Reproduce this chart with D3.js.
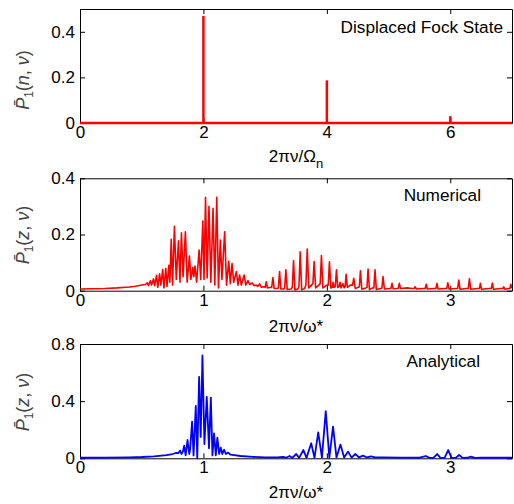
<!DOCTYPE html>
<html>
<head>
<meta charset="utf-8">
<script src="https://cdn.jsdelivr.net/npm/d3@7"></script>
<style>
  body { margin: 0; background: #fff; }
  text { font-family: "Liberation Sans", Arial, sans-serif; }
</style>
</head>
<body>
<div id="chart-area"></div>
<script>

// ---- Data ----

// Displaced Fock state: stick spectrum
var fockX = [2, 4, 6];
var fockY = [0.47, 0.187, 0.03];

// Numerical spectrum, peaks and valleys as [2*pi*nu/omega*, P]
var numericalPoints = [
	[0,0.006],[0.1,0.007],[0.2,0.008],[0.3,0.01],[0.4,0.013],[0.45,0.016],[0.5,0.02],[0.53,0.022],
	[0.545,0.028],[0.555,0.018],[0.57,0.035],[0.58,0.02],[0.595,0.042],[0.605,0.018],[0.62,0.055],[0.63,0.012],
	[0.645,0.06],[0.655,0.02],[0.67,0.075],[0.68,0.01],[0.695,0.08],[0.705,0.015],[0.72,0.09],[0.728,0.03],
	[0.739,0.183],[0.75,0.02],[0.765,0.229],[0.78,0.04],[0.798,0.178],[0.81,0.03],[0.822,0.206],[0.835,0.05],
	[0.854,0.21],[0.868,0.03],[0.887,0.123],[0.898,0.04],[0.914,0.082],[0.922,0.05],[0.932,0.088],[0.945,0.03],
	[0.965,0.145],[0.978,0.04],[0.995,0.248],[1.005,0.04],[1.017,0.332],[1.03,0.045],[1.045,0.3],[1.06,0.03],
	[1.078,0.293],[1.092,0.02],[1.108,0.332],[1.122,0.01],[1.137,0.18],[1.15,0.04],[1.172,0.21],[1.187,0.02],
	[1.205,0.105],[1.218,0.025],[1.232,0.097],[1.245,0.03],[1.267,0.068],[1.28,0.02],[1.293,0.056],[1.307,0.02],
	[1.33,0.056],[1.343,0.02],[1.361,0.036],[1.375,0.022],[1.395,0.028],[1.41,0.018],[1.428,0.02],[1.44,0.015],
	[1.455,0.024],[1.47,0.012],[1.49,0.014],[1.5,0.012],[1.509,0.032],[1.518,0.01],[1.545,0.012],[1.553,0.012],
	[1.563,0.047],[1.573,0.008],[1.6,0.008],[1.607,0.01],[1.617,0.068],[1.627,0.006],[1.65,0.006],[1.658,0.01],
	[1.668,0.074],[1.679,0.004],[1.71,0.006],[1.72,0.012],[1.73,0.107],[1.741,0.003],[1.765,0.006],[1.774,0.015],
	[1.784,0.138],[1.796,0.003],[1.82,0.008],[1.83,0.02],[1.841,0.148],[1.853,0.01],[1.875,0.02],[1.887,0.025],
	[1.897,0.104],[1.909,0.01],[1.935,0.02],[1.946,0.025],[1.956,0.125],[1.968,0.01],[2.0,0.02],[2.011,0.02],
	[2.021,0.103],[2.032,0.01],[2.045,0.012],[2.05,0.03],[2.058,0.012],[2.068,0.015],[2.078,0.074],[2.088,0.012],
	[2.1,0.015],[2.107,0.03],[2.115,0.01],[2.13,0.025],[2.14,0.01],[2.148,0.015],[2.156,0.058],[2.166,0.012],
	[2.19,0.02],[2.208,0.02],[2.218,0.044],[2.23,0.008],[2.255,0.012],[2.263,0.014],[2.272,0.071],[2.283,0.005],
	[2.315,0.01],[2.325,0.012],[2.334,0.077],[2.345,0.004],[2.372,0.01],[2.381,0.01],[2.39,0.074],[2.401,0.004],
	[2.435,0.008],[2.446,0.01],[2.455,0.05],[2.466,0.006],[2.51,0.008],[2.52,0.009],[2.528,0.026],[2.537,0.007],
	[2.57,0.008],[2.579,0.009],[2.587,0.026],[2.597,0.008],[2.65,0.01],[2.69,0.008],[2.708,0.008],[2.716,0.014],
	[2.726,0.006],[2.78,0.008],[2.797,0.008],[2.805,0.023],[2.814,0.006],[2.87,0.008],[2.884,0.008],[2.892,0.026],
	[2.901,0.006],[2.96,0.008],[2.972,0.008],[2.98,0.028],[2.99,0.006],[3.045,0.008],[3.06,0.008],[3.069,0.038],
	[3.079,0.005],[3.13,0.008],[3.146,0.008],[3.155,0.042],[3.165,0.005],[3.22,0.008],[3.236,0.008],[3.244,0.026],
	[3.253,0.005],[3.31,0.008],[3.332,0.008],[3.341,0.027],[3.35,0.005],[3.41,0.008],[3.426,0.008],[3.433,0.014],
	[3.442,0.005],[3.475,0.008],[3.484,0.008],[3.49,0.023],[3.5,0.01]
];

// Analytical spectrum
var analyticalPoints = [
	[0,0.004],[0.2,0.005],[0.4,0.007],[0.5,0.009],[0.6,0.013],[0.7,0.022],[0.75,0.03],[0.78,0.038],
	[0.795,0.035],[0.811,0.054],[0.822,0.03],[0.833,0.045],[0.844,0.089],[0.856,0.02],[0.871,0.128],[0.885,0.03],
	[0.892,0.06],[0.908,0.257],[0.92,0.02],[0.938,0.366],[0.95,0.0],[0.965,0.57],[0.978,0.15],[0.992,0.72],
	[1.008,0.1],[1.027,0.43],[1.045,0.07],[1.06,0.425],[1.073,0.02],[1.086,0.175],[1.1,0.02],[1.113,0.145],
	[1.127,0.03],[1.14,0.075],[1.153,0.03],[1.167,0.06],[1.182,0.03],[1.2,0.04],[1.22,0.025],[1.25,0.022],
	[1.3,0.016],[1.4,0.01],[1.5,0.007],[1.6,0.006],[1.644,0.01],[1.67,0.004],[1.698,0.016],[1.72,0.003],
	[1.752,0.03],[1.775,0.003],[1.81,0.058],[1.835,0.003],[1.873,0.105],[1.9,0.003],[1.93,0.182],[1.96,0.005],
	[1.991,0.33],[2.02,0.005],[2.05,0.222],[2.078,0.005],[2.11,0.096],[2.14,0.005],[2.172,0.047],[2.2,0.005],
	[2.231,0.03],[2.26,0.006],[2.293,0.019],[2.325,0.006],[2.358,0.014],[2.39,0.006],[2.45,0.006],[2.6,0.005],
	[2.7,0.005],[2.75,0.004],[2.802,0.016],[2.83,0.003],[2.865,0.004],[2.894,0.03],[2.92,0.003],[2.955,0.004],
	[2.983,0.058],[3.01,0.003],[3.045,0.004],[3.072,0.023],[3.1,0.003],[3.14,0.004],[3.166,0.012],[3.2,0.003],
	[3.25,0.004],[3.3,0.004],[3.4,0.004],[3.5,0.004]
];

// Ticks
var fockTicksX = [0, 2, 4, 6];
var fockTicksY = [0, 0.2, 0.4];
var freqTicksX = [0, 1, 2, 3];
var numericalTicksY = [0, 0.2, 0.4];
var analyticalTicksY = [0, 0.4, 0.8];


// ---- Drawing ----

var width = 514,
		height = 504;

var left = 80,
		right = 512;

var svg = d3.select("#chart-area").append("svg")
		.attr("width", width)
		.attr("height", height);

var fmt = function(d){ return d === 0 ? "0" : d3.format("")(d); };

// One MATLAB-like box axes
function drawPanel(cfg) {
	var g = svg.append("g");

	var x = d3.scaleLinear().domain(cfg.xDomain).range([left, right]);
	var y = d3.scaleLinear().domain(cfg.yDomain).range([cfg.bottom, cfg.top]);

	// clip for data
	svg.append("clipPath").attr("id", cfg.id)
		.append("rect")
		.attr("x", left).attr("y", cfg.top - 2)
		.attr("width", right - left).attr("height", cfg.bottom - cfg.top + 4);

	// inner ticks on all four sides
	g.append("g").attr("transform", "translate(0," + cfg.bottom + ")")
		.call(d3.axisBottom(x).tickValues(cfg.xTicks).tickFormat(fmt).tickSizeInner(-5).tickSizeOuter(0).tickPadding(3));
	g.append("g").attr("transform", "translate(" + left + ",0)")
		.call(d3.axisLeft(y).tickValues(cfg.yTicks).tickFormat(fmt).tickSizeInner(-5).tickSizeOuter(0).tickPadding(5));
	g.append("g").attr("transform", "translate(0," + cfg.top + ")")
		.call(d3.axisTop(x).tickValues(cfg.xTicks).tickFormat("").tickSizeInner(-5).tickSizeOuter(0));
	g.append("g").attr("transform", "translate(" + right + ",0)")
		.call(d3.axisRight(y).tickValues(cfg.yTicks).tickFormat("").tickSizeInner(-5).tickSizeOuter(0));

	g.selectAll(".tick text").attr("font-size", 17).attr("fill", "#000")
		.attr("font-family", "'Liberation Sans', Arial, sans-serif");
	g.selectAll(".domain, .tick line").attr("stroke", "#000");

	// title inside the box
	g.append("text")
		.attr("x", cfg.titleX).attr("y", cfg.titleY)
		.attr("text-anchor", "end")
		.attr("font-size", 17.2)
		.text(cfg.title);

	// x label
	var xl = g.append("text")
		.attr("x", (left + right) / 2).attr("y", cfg.xLabelY)
		.attr("text-anchor", "middle")
		.attr("font-size", 17);
	xl.append("tspan").text(cfg.xLabel);
	if (cfg.xSub) xl.append("tspan").attr("font-size", 13).attr("dy", 6).text(cfg.xSub);

	// y label: P-bar_1(var, nu)
	var yl = g.append("text")
		.attr("transform", "translate(29," + cfg.yLabelY + ") rotate(-90)")
		.attr("text-anchor", "middle")
		.attr("fill", "#444")
		.attr("font-family", "'Liberation Serif', 'DejaVu Serif', serif")
		.attr("font-size", 18);
	yl.append("tspan").attr("font-style", "italic").text("P\u0304");
	yl.append("tspan").attr("font-size", 12).attr("dy", 4).text("1");
	yl.append("tspan").attr("dy", -4).text("(");
	yl.append("tspan").attr("font-style", "italic").text(cfg.yVar);
	yl.append("tspan").text(", ");
	yl.append("tspan").attr("font-style", "italic").text("\u03bd");
	yl.append("tspan").text(")");

	return { g: g, x: x, y: y };
}

// Panel 1: displaced Fock state
var p1 = drawPanel({
	id: "clip1", top: 9, bottom: 123,
	xDomain: [0, 7], yDomain: [0, 0.5],
	xTicks: fockTicksX, yTicks: fockTicksY,
	title: "Displaced Fock State", titleX: 503, titleY: 33,
	xLabel: "2\u03c0\u03bd/\u03a9", xSub: "n", xLabelY: 162,
	yVar: "n", yLabelY: 80
});

p1.g.append("line")
	.attr("x1", p1.x(0)).attr("x2", p1.x(7))
	.attr("y1", p1.y(0)).attr("y2", p1.y(0))
	.attr("stroke", "#ff0000").attr("stroke-width", 2.5);

p1.g.selectAll(".stem")
	.data(fockX)
	.enter()
	.append("line")
	.attr("class", "stem")
	.attr("x1", function(d){ return p1.x(d); })
	.attr("x2", function(d){ return p1.x(d); })
	.attr("y1", p1.y(0))
	.attr("y2", function(d, i){ return p1.y(fockY[i]); })
	.attr("stroke", "#ff0000")
	.attr("stroke-width", 2.5);

// Panel 2: numerical
var p2 = drawPanel({
	id: "clip2", top: 178.3, bottom: 290.7,
	xDomain: [0, 3.5], yDomain: [0, 0.4],
	xTicks: freqTicksX, yTicks: numericalTicksY,
	title: "Numerical", titleX: 481, titleY: 200.7,
	xLabel: "2\u03c0\u03bd/\u03c9*", xLabelY: 332,
	yVar: "z", yLabelY: 235
});

p2.g.append("path")
	.datum(numericalPoints)
	.attr("clip-path", "url(#clip2)")
	.attr("fill", "none")
	.attr("stroke", "#ff0000")
	.attr("stroke-width", 1.6)
	.attr("stroke-linejoin", "round")
	.attr("d", d3.line()
		.x(function(d){ return p2.x(d[0]); })
		.y(function(d){ return p2.y(d[1]); }));

// Panel 3: analytical
var p3 = drawPanel({
	id: "clip3", top: 344, bottom: 458.3,
	xDomain: [0, 3.5], yDomain: [0, 0.8],
	xTicks: freqTicksX, yTicks: analyticalTicksY,
	title: "Analytical", titleX: 480, titleY: 367.3,
	xLabel: "2\u03c0\u03bd/\u03c9*", xLabelY: 498,
	yVar: "z", yLabelY: 402
});

p3.g.append("path")
	.datum(analyticalPoints)
	.attr("clip-path", "url(#clip3)")
	.attr("fill", "none")
	.attr("stroke", "#0000ff")
	.attr("stroke-width", 1.8)
	.attr("stroke-linejoin", "round")
	.attr("d", d3.line()
		.x(function(d){ return p3.x(d[0]); })
		.y(function(d){ return p3.y(d[1]); }));

</script>
</body>
</html>
